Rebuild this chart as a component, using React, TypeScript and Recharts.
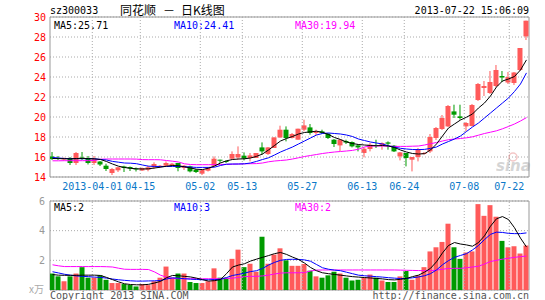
import React from 'react';
import {
  ComposedChart, Bar, Line, XAxis, YAxis, CartesianGrid,
  ReferenceArea, ReferenceLine, Cell,
} from 'recharts';

const dates = ['03-21','03-22','03-25','03-26','03-27','03-28','03-29','04-01','04-02','04-03',
'04-08','04-09','04-10','04-11','04-12','04-15','04-16','04-17','04-18','04-19',
'04-22','04-23','04-24','04-25','04-26','05-02','05-03','05-06','05-07','05-08',
'05-09','05-10','05-13','05-14','05-15','05-16','05-17','05-20','05-21','05-22',
'05-23','05-24','05-27','05-28','05-29','05-30','05-31','06-03','06-04','06-05',
'06-06','06-07','06-13','06-14','06-17','06-18','06-19','06-20','06-21','06-24',
'06-25','06-26','06-27','06-28','07-01','07-02','07-03','07-04','07-05','07-08',
'07-09','07-10','07-11','07-12','07-15','07-16','07-17','07-18','07-19','07-22'];

const open = [16.05,15.9,15.75,15.9,15.4,15.95,15.9,15.4,15.55,15.13,
14.4,14.67,15.05,15.0,14.85,14.65,14.73,14.97,15.06,15.13,
15.13,15.4,14.9,15.06,14.73,14.33,14.63,15.13,15.73,15.6,
15.83,15.96,16.13,15.9,15.9,16.96,16.3,16.9,17.96,18.73,
17.9,17.73,18.73,18.96,18.4,18.56,18.33,17.73,17.16,17.6,
17.5,17.16,16.4,16.8,17.2,17.13,17.46,17.13,16.06,16.4,
15.73,16.0,16.35,16.56,17.9,18.8,19.06,20.56,20.06,19.06,
19.1,21.7,22.9,22.4,23.1,24.1,23.45,23.4,24.7,28.06];
const high = [16.5,16.1,15.95,16.0,16.5,16.5,16.1,16.1,15.6,15.33,
14.9,15.0,15.13,15.05,14.95,14.95,15.13,15.47,15.2,15.56,
15.4,15.4,15.2,15.13,14.8,14.75,15.0,16.06,15.73,15.65,
16.56,17.06,16.46,16.4,16.4,17.46,17.0,17.96,19.13,19.06,
18.4,18.83,19.73,19.3,18.73,18.73,18.4,17.8,17.8,17.73,
17.56,17.3,16.96,17.4,17.73,17.46,17.56,17.2,16.5,16.4,
16.0,16.9,16.5,18.3,19.0,20.2,21.2,21.23,21.23,19.5,
21.3,23.4,23.6,24.6,25.2,24.6,24.5,24.5,26.9,29.63];
const low = [15.7,15.7,15.65,15.2,15.2,15.7,15.25,15.2,15.1,14.6,
14.2,14.5,14.5,14.6,14.55,14.6,14.57,14.8,14.9,15.06,
15.06,14.57,14.7,14.46,14.4,14.2,14.55,15.0,15.4,15.4,
15.73,15.73,15.66,15.56,15.9,16.23,16.2,16.9,17.9,17.56,
17.85,17.73,18.56,18.23,18.16,18.3,17.8,17.0,16.6,17.3,
16.96,16.56,15.96,16.56,16.9,16.73,16.73,16.5,15.66,15.06,
14.56,15.56,16.25,16.4,17.7,18.7,19.0,19.9,19.73,18.56,
19.05,21.6,22.1,22.3,23.0,23.5,23.3,23.2,24.6,27.7];
const close = [15.8,15.85,15.85,15.4,16.4,15.8,15.4,15.8,15.25,14.8,
14.8,14.97,14.9,14.85,14.8,14.9,14.97,15.3,15.13,15.4,
15.33,14.9,15.13,14.56,14.5,14.73,14.96,15.83,15.7,15.58,
16.3,16.3,15.83,16.16,16.4,16.56,16.96,17.96,18.73,17.9,
18.3,18.83,19.16,18.4,18.56,18.4,17.9,17.3,17.73,17.45,
17.06,16.96,16.83,17.23,17.1,17.4,17.33,16.56,16.46,15.9,
16.0,16.8,16.4,18.0,18.9,19.9,21.1,20.23,19.9,19.4,
21.2,23.3,23.1,23.5,24.7,23.95,24.0,24.45,26.9,29.63];

const ma5 = [15.85,15.84,15.83,15.82,15.85,15.86,15.84,15.82,15.75,15.55,
15.3,15.08,14.95,14.87,14.82,14.8,14.82,14.9,14.98,15.08,
15.15,15.12,15.02,14.9,14.78,14.74,14.88,15.1,15.4,15.62,
15.75,15.8,15.82,15.9,16.06,16.3,16.7,17.15,17.6,17.85,
18.05,18.3,18.45,18.52,18.58,18.47,18.25,17.95,17.75,17.5,
17.35,17.25,17.2,17.15,17.12,17.15,17.1,16.95,16.7,16.5,
16.35,16.3,16.33,16.7,17.3,18.1,18.9,19.3,19.7,19.98,
20.3,20.9,21.4,22.1,23.0,23.6,23.8,24.05,24.7,25.71];
const ma10 = [15.96,15.9,15.85,15.83,15.83,15.83,15.83,15.82,15.76,15.7,
15.56,15.48,15.4,15.38,15.33,15.2,15.08,15.06,15.04,15.05,
15.06,15.06,15.03,14.99,14.96,14.96,14.96,14.98,15.15,15.28,
15.3,15.3,15.32,15.4,15.56,15.75,15.92,16.2,16.5,16.75,
17.0,17.3,17.6,17.9,18.2,18.35,18.4,18.35,18.3,18.2,
18.05,17.8,17.65,17.5,17.4,17.3,17.12,17.0,16.87,16.8,
16.75,16.74,16.76,16.86,17.0,17.3,17.55,17.8,18.1,18.55,
19.0,19.4,19.9,20.4,20.9,21.4,21.9,22.55,23.3,24.41];
const ma30 = [15.62,15.62,15.63,15.63,15.63,15.63,15.64,15.65,15.78,15.8,
15.8,15.8,15.8,15.8,15.79,15.74,15.73,15.73,15.72,15.65,
15.58,15.5,15.32,15.25,15.23,15.23,15.23,15.24,15.25,15.26,
15.28,15.3,15.32,15.33,15.34,15.4,15.52,15.6,15.65,15.7,
15.8,15.92,16.05,16.15,16.25,16.35,16.43,16.5,16.55,16.6,
16.66,16.78,17.0,17.1,17.11,17.1,17.08,17.06,17.06,17.06,
17.08,17.1,17.2,17.33,17.45,17.6,17.73,17.8,17.85,17.92,
18.02,18.18,18.35,18.48,18.62,18.82,19.05,19.3,19.6,19.94];

const volume = [1.11,0.92,0.59,0.92,1.11,1.54,0.83,0.83,0.99,0.69,
0.47,0.47,0.4,0.33,0.24,0.4,0.33,0.59,0.83,1.58,
0.83,1.11,1.11,0.54,0.47,0.47,0.59,1.46,0.83,0.83,
2.1,2.72,1.54,1.77,1.23,3.59,1.77,2.39,2.81,2.0,
1.63,1.63,1.75,1.3,0.92,0.83,0.99,1.23,1.11,0.83,
0.64,0.69,0.83,1.04,0.83,0.64,0.54,0.54,0.92,1.28,
0.69,0.99,1.54,2.6,2.88,3.24,4.47,2.88,2.1,2.53,
2.6,5.79,5.0,5.72,4.94,3.31,2.88,2.95,2.46,3.0];
const vma5 = [1.04,1.0,0.99,0.99,0.99,1.0,1.0,1.0,0.98,0.85,
0.7,0.55,0.42,0.37,0.35,0.35,0.38,0.47,0.58,0.83,
0.98,0.96,0.92,0.88,0.8,0.7,0.6,0.63,0.7,1.1,
1.55,1.68,1.77,1.95,2.08,2.2,2.32,2.45,2.53,2.4,
2.22,2.06,1.82,1.52,1.3,1.16,1.1,1.05,1.0,0.95,
0.9,0.87,0.84,0.81,0.78,0.75,0.7,0.68,0.72,0.78,
0.9,1.0,1.2,1.46,1.9,2.5,3.0,3.2,3.1,3.04,
2.95,3.2,3.65,4.3,4.8,4.95,4.75,4.2,3.5,2.9];
const vma10 = [1.23,1.15,1.06,1.0,0.95,0.92,0.9,0.87,0.85,0.8,
0.74,0.69,0.65,0.62,0.6,0.6,0.61,0.62,0.64,0.74,
0.82,0.8,0.76,0.73,0.71,0.69,0.69,0.7,0.72,0.84,
0.98,1.05,1.14,1.24,1.3,1.45,1.68,1.86,2.0,2.06,
2.07,2.06,2.03,1.94,1.72,1.5,1.4,1.34,1.3,1.2,
1.1,1.0,0.96,0.93,0.9,0.87,0.83,0.8,0.77,0.78,
0.82,0.88,0.96,1.1,1.35,1.7,1.98,2.2,2.33,2.45,
2.7,3.0,3.4,3.75,3.9,3.88,3.82,3.8,3.8,3.85];
const vma30 = [1.7,1.63,1.58,1.58,1.58,1.58,1.58,1.58,1.58,1.57,
1.55,1.47,1.4,1.39,1.39,1.39,1.38,1.22,1.0,0.86,
0.78,0.76,0.76,0.76,0.76,0.76,0.76,0.76,0.76,0.77,
0.8,0.85,0.9,0.92,0.92,0.95,1.0,1.08,1.14,1.16,
1.16,1.16,1.17,1.28,1.34,1.35,1.35,1.35,1.35,1.35,
1.35,1.35,1.35,1.35,1.35,1.35,1.35,1.35,1.34,1.33,
1.32,1.31,1.3,1.3,1.34,1.4,1.45,1.46,1.46,1.5,
1.55,1.6,1.75,1.92,2.0,2.08,2.14,2.2,2.25,2.29];

const tickLabels = ['2013-04-01','04-15','05-02','05-13','05-27','06-13','06-24','07-08','07-22'];
const gridAt = [6.63, 14.63, 24.63, 31.63, 41.63, 51.63, 58.63, 68.63, 76.13];
const priceTicks = [14,16,18,20,22,24,26,28,30];
const volTicks = [0,2,4,6];
const volLegend = ['MA5:2','MA10:3','MA30:2'];
const titleParts = ['同花顺', '－', '日K线图'];

const X0 = -0.42;
const X1 = 79.42;
const RED = '#ff5a5a';
const GREEN = '#009a00';
const BLUE_LBL = '#0a78c8';
const GRID = '#aaaaaa';
const BORDER = '#999999';
const MONO = "'DejaVu Sans Mono', monospace";
const CJK = "'Noto Sans CJK SC', sans-serif";

const rows = dates.map((d, i) => ({
  i, date: d, o: open[i], h: high[i], l: low[i], c: close[i], v: volume[i],
  ma5: ma5[i], ma10: ma10[i], ma30: ma30[i],
  vma5: vma5[i], vma10: vma10[i], vma30: vma30[i],
}));

const Candle = (props: any) => {
  const { x, y, width, height, payload } = props;
  if (x == null || y == null || !payload) return null;
  const { o, h, l, c } = payload;
  const color = c >= o ? RED : GREEN;
  const top = Math.min(y, y + height);
  const span = Math.abs(height);
  const k = h === l ? 0 : span / (h - l);
  const yO = top + (h - o) * k;
  const yC = top + (h - c) * k;
  const bTop = Math.min(yO, yC);
  const bH = Math.max(1, Math.abs(yO - yC));
  const cx = x + width / 2;
  return (
    <g>
      <line x1={cx} x2={cx} y1={top} y2={top + span} stroke={color} strokeWidth={1} />
      <rect x={cx - 2.5} y={bTop} width={5} height={bH} fill={color} />
    </g>
  );
};

export default function App() {
  const last = rows[rows.length - 1];
  return (
    <div style={{ position: 'absolute', left: 0, top: 0, width: 545, height: 300, background: '#fff', overflow: 'hidden' }}>
      <div style={{ position: 'absolute', left: 0, top: 0 }}>
        <ComposedChart width={545} height={195} data={rows} margin={{ top: 17, right: 16, bottom: 0, left: 0 }}>
          <CartesianGrid vertical={false} stroke={GRID} strokeDasharray="1 2" />
          <XAxis dataKey="i" type="number" domain={[X0, X1]} ticks={gridAt} interval={0}
            tickFormatter={(v: any, k: number) => tickLabels[k]} allowDataOverflow
            axisLine={false} tickLine={false} tickSize={0} tickMargin={6} height={18}
            tick={{ fill: BLUE_LBL, fontSize: 10, fontFamily: MONO }} />
          <YAxis domain={[14, 30]} ticks={priceTicks} width={50} allowDataOverflow interval={0}
            axisLine={false} tickLine={false} tickSize={0} tickMargin={4}
            tick={{ fill: '#ff0000', fontSize: 10, fontFamily: MONO }} />
          {gridAt.map((g) => (
            <ReferenceLine key={g} x={g} stroke={GRID} strokeDasharray="1 2" />
          ))}
          <Bar dataKey={(d: any) => [d.l, d.h]} barSize={5} shape={<Candle />} isAnimationActive={false} />
          <Line type="linear" dataKey="ma30" stroke="#ff00ff" strokeWidth={1} dot={false} activeDot={false} isAnimationActive={false} />
          <Line type="linear" dataKey="ma10" stroke="#0000ff" strokeWidth={1} dot={false} activeDot={false} isAnimationActive={false} />
          <Line type="linear" dataKey="ma5" stroke="#000000" strokeWidth={1} dot={false} activeDot={false} isAnimationActive={false} />
          <ReferenceArea x1={X0} x2={X1} y1={14} y2={30} fill="none" fillOpacity={0} stroke={BORDER} strokeWidth={1} />
        </ComposedChart>
      </div>
      <div style={{ position: 'absolute', left: 0, top: 195 }}>
        <ComposedChart width={545} height={105} data={rows} margin={{ top: 6, right: 16, bottom: 10, left: 0 }}>
          <CartesianGrid vertical={false} stroke={GRID} strokeDasharray="1 2" />
          <XAxis dataKey="i" type="number" domain={[X0, X1]} ticks={gridAt} hide allowDataOverflow />
          <YAxis domain={[0, 6]} ticks={volTicks} width={50} allowDataOverflow interval={0}
            tickFormatter={(v: any) => (v === 0 ? '' : String(v))}
            axisLine={false} tickLine={false} tickSize={0} tickMargin={5}
            tick={{ fill: '#999999', fontSize: 10, fontFamily: MONO }} />
          {gridAt.map((g) => (
            <ReferenceLine key={g} x={g} stroke={GRID} strokeDasharray="1 2" />
          ))}
          <Bar dataKey="v" barSize={5} isAnimationActive={false}>
            {rows.map((r, k) => (
              <Cell key={k} fill={r.c >= r.o ? RED : GREEN} />
            ))}
          </Bar>
          <Line type="linear" dataKey="vma30" stroke="#ff00ff" strokeWidth={1} dot={false} activeDot={false} isAnimationActive={false} />
          <Line type="linear" dataKey="vma10" stroke="#0000ff" strokeWidth={1} dot={false} activeDot={false} isAnimationActive={false} />
          <Line type="linear" dataKey="vma5" stroke="#000000" strokeWidth={1} dot={false} activeDot={false} isAnimationActive={false} />
          <ReferenceArea x1={X0} x2={X1} y1={0} y2={6} fill="none" fillOpacity={0} stroke={BORDER} strokeWidth={1} />
        </ComposedChart>
      </div>
      <svg width={545} height={300} style={{ position: 'absolute', left: 0, top: 0, pointerEvents: 'none' }}>
        <g fontFamily={MONO} fontSize={10}>
          <text x={50} y={14} fill="#000">sz300033</text>
          <text x={529} y={14} fill="#000" textAnchor="end">2013-07-22 15:06:09</text>
          <text x={54} y={28.5} fill="#000">{`MA5:${last.ma5.toFixed(2)}`}</text>
          <text x={174} y={28.5} fill="#0000ff">{`MA10:${last.ma10.toFixed(2)}`}</text>
          <text x={295} y={28.5} fill="#ff00ff">{`MA30:${last.ma30.toFixed(2)}`}</text>
          <text x={54} y={211} fill="#000">{volLegend[0]}</text>
          <text x={174} y={211} fill="#0000ff">{volLegend[1]}</text>
          <text x={295} y={211} fill="#ff00ff">{volLegend[2]}</text>
          <text x={50} y={298.5} fill="#555">Copyright 2013 SINA.COM</text>
          <text x={529} y={298.5} fill="#555" textAnchor="end">http://finance.sina.com.cn</text>
        </g>
        <g fontFamily={CJK} fontSize={12} fill="#000">
          <text x={120} y={15}>{titleParts[0]}</text>
          <text x={163} y={15}>{titleParts[1]}</text>
          <text x={181} y={15}>{titleParts[2]}</text>
        </g>
        <text x={29} y={293} fontFamily={CJK} fontSize={10} fill="#aaa">x万</text>
        <g opacity={0.35}>
          <circle cx={513} cy={157} r={4} fill="none" stroke="#e06060" strokeWidth={1.5} />
          <text x={496} y={171} fontFamily="'DejaVu Sans', sans-serif" fontStyle="italic" fontWeight="bold" fontSize={15} fill="#888">sina</text>
        </g>
      </svg>
    </div>
  );
}
